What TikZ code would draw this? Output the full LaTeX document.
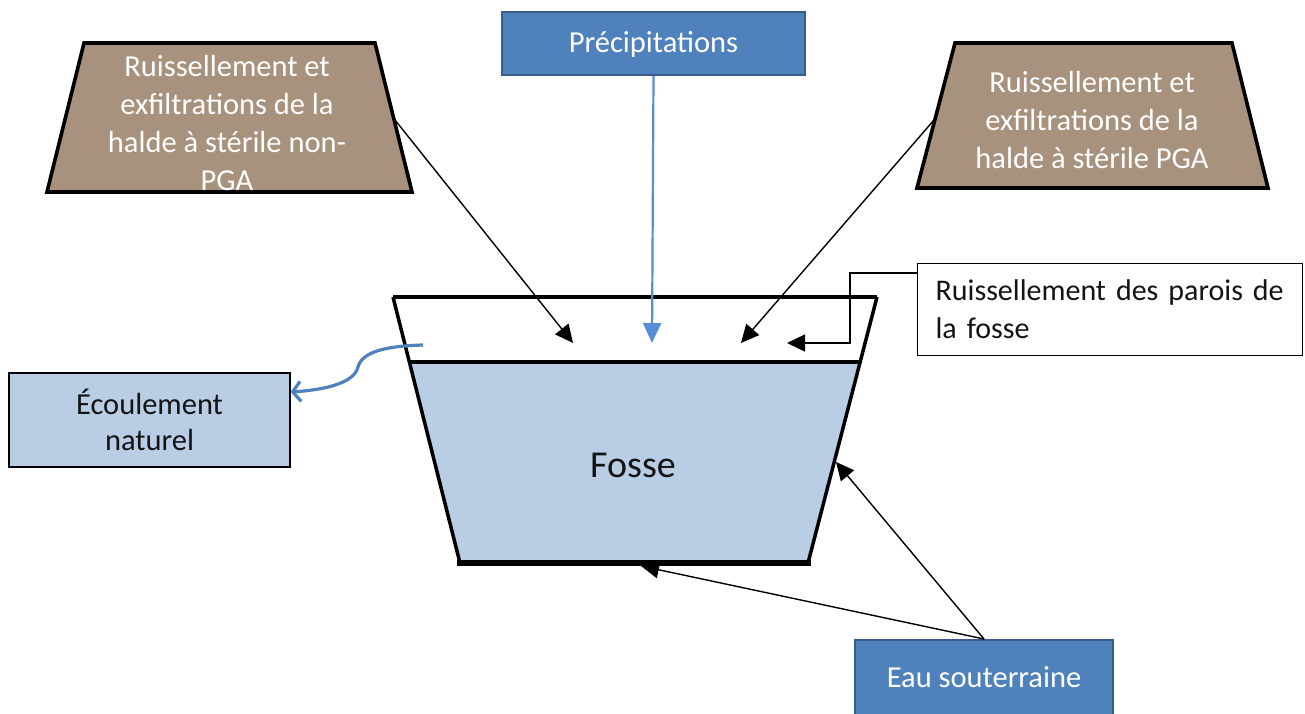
\documentclass[tikz,border=0pt]{standalone}
\usepackage{fontspec}
\setmainfont{Carlito}
\usetikzlibrary{arrows.meta}
\definecolor{brownfill}{RGB}{168,145,125}
\definecolor{boxblue}{RGB}{79,129,189}
\definecolor{borderblue}{RGB}{56,93,138}
\definecolor{lightblue}{RGB}{185,205,229}
\definecolor{precipblue}{RGB}{85,142,213}
\definecolor{textdark}{RGB}{20,20,20}
\begin{document}
\begin{tikzpicture}[x=1pt,y=-1pt,
  haldeshape/.style={draw=black,line width=3.6pt,fill=brownfill,line join=miter},
  haldetext/.style={text=white,align=center,font=\fontsize{30.5}{37.7}\selectfont,inner sep=0pt},
  bluebox/.style={draw=borderblue,line width=2pt,fill=boxblue,text=white,font=\fontsize{30.5}{37.5}\selectfont,inner sep=0pt},
  lightbox/.style={draw=black,line width=1.2pt,fill=lightblue,text=textdark,align=center,font=\fontsize{30.5}{36}\selectfont,inner sep=0pt},
  whitebox/.style={draw=black,line width=1.2pt,fill=white,text=textdark,align=left,font=\fontsize{30}{38}\selectfont},
  feed/.style={-{Triangle[length=18pt,width=17pt]},line width=1.4pt,black},
  wall/.style={line width=3.5pt,black},
]
\useasboundingbox (0,0) rectangle (1305,714);

% left waste pile
\coordinate (hlA) at (84,43);  \coordinate (hlB) at (375,43);
\coordinate (hlC) at (412,192); \coordinate (hlD) at (47,192);
\path[haldeshape] (hlA) -- (hlB) -- (hlC) -- (hlD) -- cycle;
\node[haldetext,anchor=base] (haldeLtxt) at (227,190) {Ruissellement et\\exfiltrations de la\\halde à stérile non-\\PGA};
\coordinate (haldeL) at (395,120);

% right waste pile
\coordinate (hrA) at (955,43);  \coordinate (hrB) at (1232,43);
\coordinate (hrC) at (1268,188); \coordinate (hrD) at (917,188);
\path[haldeshape] (hrA) -- (hrB) -- (hrC) -- (hrD) -- cycle;
\node[haldetext,anchor=base] (haldeRtxt) at (1092,168) {Ruissellement et\\exfiltrations de la\\halde à stérile PGA};
\coordinate (haldeR) at (934,120);

% precipitation
\node[bluebox,minimum width=303pt,minimum height=63pt] (prec) at (653.5,43.5) {\raisebox{-3pt}[18pt][6pt]{Précipitations}};

% pit
\coordinate (fTL) at (393,297); \coordinate (fTR) at (877,297);
\coordinate (fWL) at (409.3,362); \coordinate (fWR) at (860.1,362);
\coordinate (fBL) at (460,563); \coordinate (fBR) at (808,563);
\fill[lightblue] (fWL) -- (fWR) -- (fBR) -- (fBL) -- cycle;
\draw[wall] (fTL) -- (fTR);
\draw[wall] (fWL) -- (fWR);
\draw[wall] (fTL) -- (fBL);
\draw[wall] (fTR) -- (fBR);
\draw[line width=6pt,black,line cap=rect] (fBL) -- (fBR);
\node[font=\fontsize{38}{46}\selectfont,text=textdark] (fosse) at (633,465) {Fosse};

\coordinate (inL) at (573,343);
\coordinate (inP) at (652,343);
\coordinate (inR) at (741,343);
\coordinate (inW) at (787,343);
\coordinate (gwBottom) at (641,566);
\coordinate (gwWall) at (836,462);
\coordinate (outStart) at (423,345);

% wall runoff box
\node[whitebox,anchor=north west,minimum height=92pt,text width=349pt,inner xsep=18pt,inner ysep=0pt] (paroi) at (917,263) {Ruissellement des parois de\\la fosse};

% natural flow box
\node[lightbox,minimum width=281pt,minimum height=94pt] (ecoul) at (149.5,420) {Écoulement\\naturel};

% groundwater box
\node[bluebox,minimum width=258pt,minimum height=80pt] (eau) at (984,680) {\raisebox{-1pt}[18pt][6pt]{Eau souterraine}};

% connectors
\draw[feed] (haldeL) -- (inL);
\draw[feed] (haldeR) -- (inR);
\draw[-{Triangle[length=20pt,width=18pt]},line width=2.2pt,precipblue] (prec.south) -- (inP);
\draw[feed] ([yshift=-10pt]paroi.north west) -- (850,273) -- (850,343) -- (inW);
\draw[feed] (eau.north) -- (gwBottom);
\draw[feed] (eau.north) -- (gwWall);
\draw[-{Straight Barb[length=8pt,width=20pt,line width=3.2pt]},line width=3.2pt,boxblue]
  (outStart) .. controls (385,346) and (362,352) .. (358,367)
  .. controls (354,384) and (322,390) .. ([yshift=28pt]ecoul.east);
\end{tikzpicture}
\end{document}
